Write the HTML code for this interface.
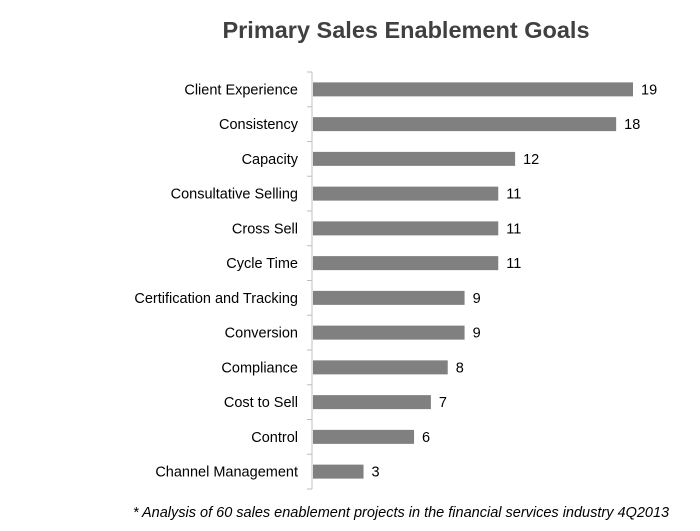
<!DOCTYPE html>
<html><head><meta charset="utf-8"><style>
body{margin:0;background:#fff;}
svg{display:block;font-family:"Liberation Sans",Arial,sans-serif;}
</style></head><body>
<svg width="700" height="531">
<text x="406" y="38" text-anchor="middle" font-size="23.5" font-weight="bold" fill="#404040">Primary Sales Enablement Goals</text>
<g id="plot"></g>
<text x="401" y="517" text-anchor="middle" font-size="14.5" font-style="italic" fill="#000">* Analysis of 60 sales enablement projects in the financial services industry 4Q2013</text>
</svg>
<script>
const categories=["Client Experience","Consistency","Capacity","Consultative Selling","Cross Sell","Cycle Time","Certification and Tracking","Conversion","Compliance","Cost to Sell","Control","Channel Management"];
const values=[19,18,12,11,11,11,9,9,8,7,6,3];
const NS="http://www.w3.org/2000/svg";
const plotG=document.getElementById('plot');
const x0=313,unit=(633-313)/19,yTop=72,yBottom=489,band=(yBottom-yTop)/categories.length,bh=14;
function xs(v){return x0+v*unit;}
function ys(i){return yTop+band*i+band/2;}
function mk(t,a){const e=document.createElementNS(NS,t);for(const k in a)e.setAttribute(k,a[k]);plotG.appendChild(e);return e;}
const ax=mk('line',{x1:312,y1:yTop,x2:312,y2:yBottom,stroke:'#bfbfbf','stroke-width':1});


for(let i=0;i<=categories.length;i++){
  const t=mk('line',{x1:307,x2:312,y1:yTop+band*i,y2:yTop+band*i,stroke:'#bfbfbf'});
  
  
}
categories.forEach((c,i)=>{
  const y=ys(i);
  const r=mk('rect',{x:x0,y:y-bh/2,width:xs(values[i])-x0,height:bh,fill:'#808080'});
  
  
  const l=mk('text',{x:298,y:y+5,'text-anchor':'end','font-size':14.5,fill:'#000'});
  l.textContent=c;
  
  
  const v=mk('text',{x:xs(values[i])+8,y:y+5,'font-size':14.5,fill:'#000'});
  v.textContent=values[i];
  
  
});
</script>
</body></html>
